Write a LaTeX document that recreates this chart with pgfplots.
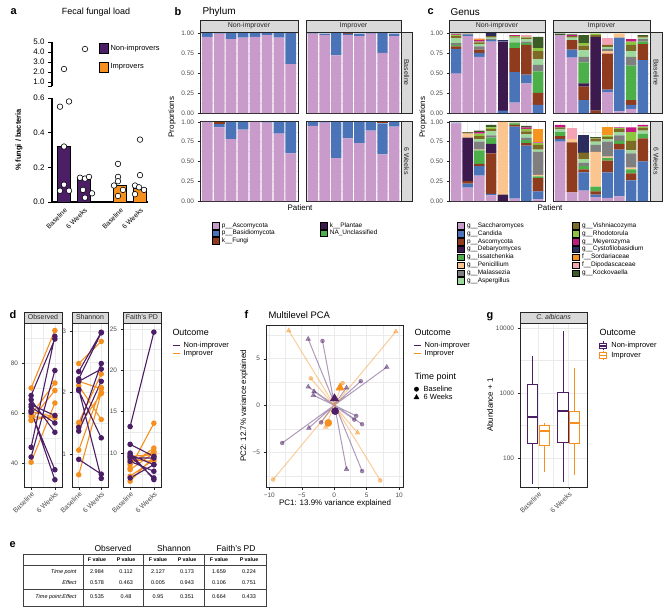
\documentclass[border=0pt]{standalone}
\usepackage{fontspec}
\setmainfont{Liberation Sans}
\usepackage{pgfplots}
\pgfplotsset{compat=1.18}
\usepackage{pgfplotstable}
\usepgfplotslibrary{statistics}
\newcommand{\fs}[1]{\fontsize{#1}{#1}\selectfont}
\definecolor{ni}{HTML}{4B1E66}
\definecolor{im}{HTML}{F5901F}
\definecolor{gridc}{HTML}{EBEBEB}
\definecolor{stripc}{HTML}{D9D9D9}
\definecolor{tickc}{HTML}{4D4D4D}
\definecolor{p1}{HTML}{C99BCB}
\definecolor{p2}{HTML}{4A73B8}
\definecolor{p3}{HTML}{8E3B1E}
\definecolor{p4}{HTML}{3D1A4D}
\definecolor{p5}{HTML}{4DAF4A}
\definecolor{g1}{HTML}{C99BCB}
\definecolor{g2}{HTML}{4A73B8}
\definecolor{g3}{HTML}{8E3B1E}
\definecolor{g4}{HTML}{3D1A4D}
\definecolor{g5}{HTML}{4DAF4A}
\definecolor{g6}{HTML}{FBC58F}
\definecolor{g7}{HTML}{7F7F7F}
\definecolor{g8}{HTML}{9FD89F}
\definecolor{g9}{HTML}{7D6A25}
\definecolor{g10}{HTML}{8CC63F}
\definecolor{g11}{HTML}{C2187F}
\definecolor{g12}{HTML}{2B2D5E}
\definecolor{g13}{HTML}{F7941D}
\definecolor{g14}{HTML}{F4A3B5}
\definecolor{g15}{HTML}{3B5B27}

\pgfplotstableread{
x s1 s2 s3 s4 s5
1 .95 .05 0 0 0
2 .99 .01 0 0 0
3 .92 .08 0 0 0
4 .94 .06 0 0 0
5 .95 .05 0 0 0
6 .97 .03 0 0 0
7 .94 .06 0 0 0
8 .61 .39 0 0 0
}\pBN
\pgfplotstableread{
x s1 s2 s3 s4 s5
1 .99 .01 0 0 0
2 .97 .02 0 0 0
3 .72 .28 0 0 0
4 .97 .02 .01 0 0
5 .96 .03 0 0 0
6 .99 .01 0 0 0
7 .75 .25 0 0 0
8 .96 .03 0 0 0
}\pBI
\pgfplotstableread{
x s1 s2 s3 s4 s5
1 1.00 0 0 0 0
2 .93 .04 .03 0 0
3 .78 .22 0 0 0
4 .90 .10 0 0 0
5 1.00 0 0 0 0
6 .99 .01 0 0 0
7 .85 .15 0 0 0
8 .60 .40 0 0 0
}\pWN
\pgfplotstableread{
x s1 s2 s3 s4 s5
1 .95 .05 0 0 0
2 .99 .01 0 0 0
3 .54 .46 0 0 0
4 .79 .21 0 0 0
5 .73 .27 0 0 0
6 .89 .11 0 0 0
7 .59 .39 .02 0 0
8 .94 .06 0 0 0
}\pWI

\pgfplotstableread{
x s1 s2 s3 s4 s5 s6 s7 s8 s9 s10 s11 s12 s13 s14 s15
1 .49 .31 .03 0 .02 0 .02 .06 .03 .01 .01 0 0 0 .01
2 .96 .02 0 0 0 0 0 0 .01 0 0 0 0 0 0
3 .70 .05 .04 0 0 0 .04 .03 .02 .01 .02 0 .01 .01 0
4 .89 .02 0 0 0 0 .01 .02 .02 0 0 .04 0 0 0
5 0 .03 0 .86 0 0 0 0 0 0 0 .02 0 0 0
6 .13 .38 .30 0 .07 0 0 .06 .01 .01 .01 0 0 0 0
7 .37 .11 .37 0 .02 0 .02 .03 .02 .01 0 0 0 .02 0
8 0 .10 .15 0 .27 0 .08 .07 .10 .04 0 0 0 0 .14
}\cBN
\pgfplotstableread{
x s1 s2 s3 s4 s5 s6 s7 s8 s9 s10 s11 s12 s13 s14 s15
1 .97 0 0 0 0 0 0 0 0 0 0 0 0 0 .02
2 .69 .10 .12 0 0 0 0 .03 .02 0 .01 0 0 0 .01
3 0 .16 .17 .04 .26 0 .07 .08 .06 .03 0 0 0 0 .10
4 0 0 .03 .92 0 0 0 0 .02 .02 0 0 0 0 0
5 .26 .03 .45 0 0 .03 .03 .02 .03 0 0 0 0 .08 0
6 .02 .92 0 0 0 .05 0 0 0 0 0 0 0 0 0
7 .05 .05 .06 0 .43 0 .11 .07 .08 .04 .03 0 0 0 0
8 0 .66 .20 0 .03 0 .03 .02 .02 0 0 0 0 0 .01
}\cBI
\pgfplotstableread{
x s1 s2 s3 s4 s5 s6 s7 s8 s9 s10 s11 s12 s13 s14 s15
1 .98 .01 0 0 0 0 0 0 0 0 0 0 0 0 0
2 .17 .05 .03 .55 0 .05 .01 0 .01 0 0 0 0 0 0
3 .32 .12 .03 0 .17 .01 .10 .03 .04 .03 .02 0 0 0 .02
4 .07 .02 .51 .12 .08 0 .03 .05 .03 .02 0 0 0 0 .03
5 0 0 0 .08 0 .92 0 0 0 0 0 0 0 0 0
6 .03 .91 .02 0 .02 0 0 0 .01 0 0 0 0 0 0
7 0 .70 .03 0 .04 0 .03 .04 .04 .03 .02 0 0 0 .02
8 .02 .10 .17 0 .02 .02 .29 .03 .06 .02 .01 0 .17 0 0
}\cWN
\pgfplotstableread{
x s1 s2 s3 s4 s5 s6 s7 s8 s9 s10 s11 s12 s13 s14 s15
1 .75 .03 .04 0 .05 0 0 .04 .02 0 .03 0 0 0 0
2 .11 0 .63 0 0 .04 0 0 0 0 0 0 0 .14 0
3 .13 .23 .04 0 .04 0 .04 .05 .08 0 0 .22 0 0 0
4 .05 .03 .04 0 .06 .44 .09 .04 .04 0 0 0 0 0 .02
5 .04 .32 .15 0 .03 .02 .19 .03 .03 .02 0 0 .10 0 0
6 .06 .59 .07 0 .04 0 .07 .04 .04 .01 .01 0 0 0 0
7 0 .26 .09 0 .05 .02 .18 .04 .12 .11 .06 0 0 0 0
8 0 .50 .29 0 .06 0 0 .04 .03 .02 .02 0 0 0 0
}\cWI

\pgfplotsset{
 gg/.style={scale only axis, axis line style={draw=black!85, line width=0.5pt},
   tick style={draw=black!85, line width=0.4pt}, major tick length=2.5pt, minor tick length=0pt,
   tick align=outside, tick pos=left,
   tick label style={font=\fs{6.5}, text=tickc},
   major grid style={draw=gridc, line width=0.6pt}, minor grid style={draw=gridc, line width=0.3pt},
   grid=both, /pgf/number format/assume math mode=true},
 facet/.style={gg, xmin=0.4, xmax=8.6, ymin=0, ymax=1.01, ybar stacked, bar width=0.9,
   xtick={1,...,8}, xticklabels={}, xtick style={draw=none}, minor xtick={},
   ytick={0,0.25,0.5,0.75,1}, minor ytick={0.125,0.375,0.625,0.875}, anchor=south west},
 lefty/.style={yticklabels={0.00,0.25,0.50,0.75,1.00}},
 righty/.style={yticklabels={}, ytick style={draw=none}},
 dfacet/.style={gg, anchor=south west, height=164bp, xmin=0.7, xmax=2.3, xtick={1,2}, minor xtick={1.5},
   xticklabels={Baseline,6 Weeks}, xticklabel style={rotate=45, anchor=north east, inner sep=1pt, font=\fs{7}},
   unbounded coords=jump},
 legax/.style={hide axis, scale only axis, width=1pt, height=1pt, xmin=0, xmax=1, ymin=0, ymax=1,
   anchor=north west, legend cell align=left,
   legend style={at={(0,1)}, anchor=north west, draw=none, fill=none, inner sep=0pt, outer sep=0pt,
     font=\fs{6.5}, row sep=0pt, nodes={inner sep=0.7pt}}},
 sqleg/.style={legend image code/.code={\path[draw=none,fill=none] (0pt,0pt) -- (9pt,0pt); \fill (0pt,-3.3pt) rectangle (7pt,3.3pt);}},
 boxleg/.style={legend image code/.code={\path[draw=none,fill=none] (0pt,0pt) -- (10.5pt,0pt); \draw[draw=black, line width=0.8pt] (0pt,-5pt) rectangle (9pt,5pt);}},
 lnleg/.style={legend image code/.code={\path[draw=none,fill=none] (0pt,0pt) -- (10.5pt,0pt); \draw[line width=1.1pt] (0pt,0pt) -- (7.5pt,0pt);}},
 mkleg/.style={legend image code/.code={\path[draw=none,fill=none] (0pt,0pt) -- (10pt,0pt); \draw plot coordinates {(3.5pt,0pt)};}},
 bxleg/.style={legend image code/.code={\path[draw=none,fill=none] (0pt,0pt) -- (11pt,0pt); \draw[fill=white, line width=0.8pt] (0pt,-3pt) rectangle (7pt,3pt);
    \draw[line width=1.4pt] (0pt,0pt) -- (7pt,0pt);
    \draw[line width=0.8pt] (3.5pt,3pt) -- (3.5pt,4.5pt) (3.5pt,-3pt) -- (3.5pt,-4.5pt);}},
}
\newcommand{\stripT}[5]{\draw[fill=stripc, draw=black!85, line width=0.5pt] (#1,#2) rectangle (#3,#4);
  \node[font=\fs{7}, text=black!85] at ({(#1+#3)/2},{(#2+#4)/2}) {#5};}
\newcommand{\stripR}[5]{\draw[fill=stripc, draw=black!85, line width=0.5pt] (#1,#2) rectangle (#3,#4);
  \node[font=\fs{7}, text=black!85, rotate=-90] at ({(#1+#3)/2},{(#2+#4)/2}) {#5};}

\begin{document}
\begin{tikzpicture}[x=1bp,y=-1bp]
\path[use as bounding box] (0,0) rectangle (668,612);

% ================= panel a =================
\node[font=\bfseries\fs{11}, anchor=west] at (7,12) {a};
\node[font=\fs{9}] at (96,12) {Fecal fungal load};
\node[font=\bfseries\fs{7.5}, rotate=90] at (19,140) {\% fungi / bacteria};
\begin{axis}[at={(52bp,-202bp)}, anchor=south west, scale only axis, width=96bp, height=104bp,
  xmin=0, xmax=96, ymin=0, ymax=0.6, axis x line*=bottom, axis y line*=left,
  axis line style={line width=1.1pt}, ytick={0,0.2,0.4,0.6}, yticklabels={0.0,0.2,0.4,0.6},
  ytick style={line width=1pt, draw=black}, major tick length=4pt, tick align=outside,
  xtick={12,32,68,88}, xticklabels={Baseline,6 Weeks,Baseline,6 Weeks}, xtick style={draw=none},
  xticklabel style={rotate=45, anchor=north east, font=\fs{6.8}, inner sep=1pt},
  yticklabel style={font=\fs{8}}, clip=false]
\addplot[ybar, bar shift=0pt, bar width=13, fill=ni, draw=black, line width=0.8pt] coordinates {(12,0.32) (32,0.135)};
\addplot[ybar, bar shift=0pt, bar width=13, fill=im, draw=black, line width=0.8pt] coordinates {(68,0.095) (88,0.08)};
\addplot[only marks, mark=*, mark size=2.8pt, mark options={fill=white, draw=black, line width=0.6pt}] coordinates {
 (8,0.55)(17,0.58)(12,0.32)(12,0.10)(8,0.065)(17,0.065)
 (28,0.14)(33,0.135)(37,0.145)(31,0.07)(40,0.05)(33,0.025)
 (66,0.22)(66,0.145)(66,0.12)(62,0.095)(71,0.07)(66,0.035)
 (88,0.36)(88,0.155)(83,0.095)(87,0.085)(92,0.07)(83,0.045)};
\end{axis}
\begin{axis}[at={(52bp,-86bp)}, anchor=south west, scale only axis, width=96bp, height=44bp,
  xmin=0, xmax=96, ymin=0.6, ymax=5, axis y line*=left, axis x line=none,
  axis line style={line width=1.1pt}, ytick={0.6,1,2,3,4,5}, yticklabels={,1.0,2.0,3.0,4.0,5.0},
  ytick style={line width=1pt, draw=black}, major tick length=4pt, tick align=outside,
  xtick=\empty, yticklabel style={font=\fs{8}}, clip=false]
\addplot[only marks, mark=*, mark size=2.8pt, mark options={fill=white, draw=black, line width=0.6pt}] coordinates {(12,2.3)(33,4.3)};
\end{axis}
\begin{axis}[legax, at={(99bp,-43bp)}, legend style={font=\fs{7.5}, row sep=8pt}]
\addlegendimage{boxleg, fill=ni}\addlegendentry{Non-improvers}
\addlegendimage{boxleg, fill=im}\addlegendentry{Improvers}
\end{axis}

% ================= panel b =================
\node[font=\bfseries\fs{11}, anchor=west] at (171,12) {b};
\node[font=\fs{10}, anchor=west] at (199,12) {Phylum};
\node[font=\fs{8}, rotate=90] at (172,117) {Proportions};
\node[font=\fs{8}] at (300,208) {Patient};
\begin{axis}[facet, lefty, at={(200bp,-113bp)}, width=98bp, height=81bp]
\pgfplotsinvokeforeach{1,...,5}{\addplot[fill=p#1, draw=none] table[x=x, y=s#1]{\pBN};}
\end{axis}
\begin{axis}[facet, righty, at={(306bp,-113bp)}, width=95bp, height=81bp]
\pgfplotsinvokeforeach{1,...,5}{\addplot[fill=p#1, draw=none] table[x=x, y=s#1]{\pBI};}
\end{axis}
\begin{axis}[facet, lefty, at={(200bp,-201bp)}, width=98bp, height=80bp]
\pgfplotsinvokeforeach{1,...,5}{\addplot[fill=p#1, draw=none] table[x=x, y=s#1]{\pWN};}
\end{axis}
\begin{axis}[facet, righty, at={(306bp,-201bp)}, width=95bp, height=80bp]
\pgfplotsinvokeforeach{1,...,5}{\addplot[fill=p#1, draw=none] table[x=x, y=s#1]{\pWI};}
\end{axis}
\stripT{200}{20}{298}{32}{Non-improver}
\stripT{306}{20}{401}{32}{Improver}
\stripR{401}{32}{412}{113}{Baseline}
\stripR{401}{121}{412}{201}{6 Weeks}
\begin{axis}[legax, at={(212bp,-222bp)}]
\addlegendimage{sqleg, fill=p1}\addlegendentry{p\_\_Ascomycota}
\addlegendimage{sqleg, fill=p2}\addlegendentry{p\_\_Basidiomycota}
\addlegendimage{sqleg, fill=p3}\addlegendentry{k\_\_Fungi}
\end{axis}
\begin{axis}[legax, at={(320bp,-222bp)}]
\addlegendimage{sqleg, fill=p4}\addlegendentry{k\_\_Plantae}
\addlegendimage{sqleg, fill=p5}\addlegendentry{NA\_Unclassified}
\end{axis}

% ================= panel c =================
\node[font=\bfseries\fs{11}, anchor=west] at (424,12) {c};
\node[font=\fs{10}, anchor=west] at (447,12) {Genus};
\node[font=\fs{8}, rotate=90] at (423,117) {Proportions};
\node[font=\fs{8}] at (550,208) {Patient};
\begin{axis}[facet, lefty, at={(449bp,-113bp)}, width=96bp, height=81bp]
\pgfplotsinvokeforeach{1,...,15}{\addplot[fill=g#1, draw=none] table[x=x, y=s#1]{\cBN};}
\end{axis}
\begin{axis}[facet, righty, at={(553bp,-113bp)}, width=97bp, height=81bp]
\pgfplotsinvokeforeach{1,...,15}{\addplot[fill=g#1, draw=none] table[x=x, y=s#1]{\cBI};}
\end{axis}
\begin{axis}[facet, lefty, at={(449bp,-201bp)}, width=96bp, height=80bp]
\pgfplotsinvokeforeach{1,...,15}{\addplot[fill=g#1, draw=none] table[x=x, y=s#1]{\cWN};}
\end{axis}
\begin{axis}[facet, righty, at={(553bp,-201bp)}, width=97bp, height=80bp]
\pgfplotsinvokeforeach{1,...,15}{\addplot[fill=g#1, draw=none] table[x=x, y=s#1]{\cWI};}
\end{axis}
\stripT{449}{20}{545}{32}{Non-improver}
\stripT{553}{20}{650}{32}{Improver}
\stripR{650}{32}{662}{113}{Baseline}
\stripR{650}{121}{662}{201}{6 Weeks}
\begin{axis}[legax, at={(457bp,-222bp)}, legend style={nodes={inner sep=0.85pt}}]
\addlegendimage{sqleg, fill=g1}\addlegendentry{g\_\_Saccharomyces}
\addlegendimage{sqleg, fill=g2}\addlegendentry{g\_\_Candida}
\addlegendimage{sqleg, fill=g3}\addlegendentry{p\_\_Ascomycota}
\addlegendimage{sqleg, fill=g4}\addlegendentry{g\_\_Debaryomyces}
\addlegendimage{sqleg, fill=g5}\addlegendentry{g\_\_Issatchenkia}
\addlegendimage{sqleg, fill=g6}\addlegendentry{g\_\_Penicillium}
\addlegendimage{sqleg, fill=g7}\addlegendentry{g\_\_Malassezia}
\addlegendimage{sqleg, fill=g8}\addlegendentry{g\_\_Aspergillus}
\end{axis}
\begin{axis}[legax, at={(572bp,-222bp)}, legend style={nodes={inner sep=0.85pt}}]
\addlegendimage{sqleg, fill=g9}\addlegendentry{g\_\_Vishniacozyma}
\addlegendimage{sqleg, fill=g10}\addlegendentry{g\_\_Rhodotorula}
\addlegendimage{sqleg, fill=g11}\addlegendentry{g\_\_Meyerozyma}
\addlegendimage{sqleg, fill=g12}\addlegendentry{g\_\_Cystofilobasidium}
\addlegendimage{sqleg, fill=g13}\addlegendentry{f\_\_Sordariaceae}
\addlegendimage{sqleg, fill=g14}\addlegendentry{f\_\_Dipodascaceae}
\addlegendimage{sqleg, fill=g15}\addlegendentry{g\_\_Kockovaella}
\end{axis}

% ================= panel d =================
\node[font=\bfseries\fs{11}, anchor=west] at (6,315) {d};
\begin{axis}[dfacet, at={(24bp,-487bp)}, width=38bp, ymin=30.4, ymax=96, ytick={40,60,80}, minor ytick={50,70,90}]
\addplot[im, line width=1.1pt, mark=*, mark size=2.2pt] coordinates {(1,70)(2,93) (1,nan) (1,59.3)(2,72) (1,nan) (1,57.3)(2,69) (1,nan) (1,40.3)(2,64) (1,nan) (1,60.5)(2,58.5) (1,nan) (1,58.5)(2,58) (1,nan) (1,57)(2,59)};
\addplot[ni, line width=1.1pt, mark=*, mark size=2.2pt] coordinates {(1,46.3)(2,90.7) (1,nan) (1,42.4)(2,77) (1,nan) (1,67)(2,89.6) (1,nan) (1,63.3)(2,59) (1,nan) (1,65.3)(2,52.3) (1,nan) (1,62.4)(2,56) (1,nan) (1,60.3)(2,37.3) (1,nan) (1,61)(2,33.3)};
\end{axis}
\begin{axis}[dfacet, at={(72bp,-487bp)}, width=36bp, ymin=0.46, ymax=3.13, ytick={1,2,3}, minor ytick={1.5,2.5}]
\addplot[im, line width=1.1pt, mark=*, mark size=2.2pt] coordinates {(1,2.47)(2,2.83) (1,nan) (1,2.11)(2,1.56) (1,nan) (1,1.51)(2,2.30) (1,nan) (1,1.06)(2,2.08) (1,nan) (1,0.66)(2,2.00) (1,nan) (1,2.18)(2,2.06) (1,nan) (1,1.45)(2,1.98)};
\addplot[ni, line width=1.1pt, mark=*, mark size=2.2pt] coordinates {(1,2.34)(2,2.98) (1,nan) (1,2.22)(2,2.97) (1,nan) (1,2.18)(2,2.38) (1,nan) (1,2.03)(2,1.26) (1,nan) (1,1.43)(2,2.47) (1,nan) (1,1.37)(2,2.18) (1,nan) (1,0.91)(2,0.67) (1,nan) (1,2.05)(2,0.60)};
\end{axis}
\begin{axis}[dfacet, at={(123bp,-487bp)}, width=38bp, ymin=5.9, ymax=25.7, ytick={10,15,20,25}, minor ytick={7.5,12.5,17.5,22.5}]
\addplot[im, line width=1.1pt, mark=*, mark size=2.2pt] coordinates {(1,8.2)(2,13.6) (1,nan) (1,8.6)(2,10.6) (1,nan) (1,8.0)(2,10.0) (1,nan) (1,6.6)(2,9.6) (1,nan) (1,9.2)(2,9.0) (1,nan) (1,8.8)(2,10.2) (1,nan) (1,9.6)(2,9.8) (1,nan) (1,7.2)(2,9.2)};
\addplot[ni, line width=1.1pt, mark=*, mark size=2.2pt] coordinates {(1,13.2)(2,24.6) (1,nan) (1,11.05)(2,9.6) (1,nan) (1,9.8)(2,8.6) (1,nan) (1,9.6)(2,7.0) (1,nan) (1,9.4)(2,9.4) (1,nan) (1,9.0)(2,7.8) (1,nan) (1,7.0)(2,8.6) (1,nan) (1,10.0)(2,6.8)};
\end{axis}
\stripT{24}{312}{62}{323}{Observed}
\stripT{72}{312}{108}{323}{Shannon}
\stripT{123}{312}{161}{323}{Faith's PD}
\node[font=\fs{9}, anchor=west] at (169,332) {Outcome};
\begin{axis}[legax, at={(172bp,-341bp)}, legend style={font=\fs{7.5}}]
\addlegendimage{lnleg, ni}\addlegendentry{Non-improver}
\addlegendimage{lnleg, im}\addlegendentry{Improver}
\end{axis}

% ================= panel f =================
\node[font=\bfseries\fs{11}, anchor=west] at (241,315) {f};
\node[font=\fs{9.5}, anchor=west] at (265,315) {Multilevel PCA};
\node[font=\fs{8}, rotate=90] at (244,406) {PC2: 12.7\% variance explained};
\node[font=\fs{8}] at (335,503) {PC1: 13.9\% variance explained};
\begin{axis}[gg, at={(266bp,-487bp)}, anchor=south west, width=137bp, height=162bp,
  xmin=-10.5, xmax=10.6, ymin=-8.7, ymax=8.6, xtick={-10,-5,0,5,10}, xticklabels={−10,−5,0,5,10},
  ytick={-5,0,5}, yticklabels={−5,0,5}, minor xtick={-7.5,-2.5,2.5,7.5}, minor ytick={-7.5,-2.5,2.5,7.5},
  unbounded coords=jump]
\addplot[ni, opacity=0.45, line width=1pt, no marks] coordinates {(-1.8,6.9)(1.9,-6.8) (0,nan) (4.3,-7.0)(-4.0,7.1) (0,nan) (-8.0,-4.0)(8.1,4.1) (0,nan) (4.1,2.6)(-3.9,-2.4) (0,nan) (4.3,-2.0)(-4.0,2.0) (0,nan) (3.4,-1.1)(-3.2,1.1) (0,nan) (3.1,-1.5)(-3.1,1.5) (0,nan) (-2.0,-1.8)(1.9,1.9)};
\addplot[im, opacity=0.45, line width=1pt, no marks] coordinates {(7.1,-8.0)(-7.0,8.0) (0,nan) (-9.4,-7.9)(9.5,7.9) (0,nan) (-3.6,2.9)(3.6,-2.9) (0,nan) (1.3,2.4)(-1.3,-2.3)};
\addplot[ni, opacity=0.5, only marks, mark=*, mark size=2pt] coordinates {(-1.8,6.9)(4.3,-7.0)(-8.0,-4.0)(4.1,2.6)(4.3,-2.0)(3.4,-1.1)(3.1,-1.5)(-2.0,-1.8)};
\addplot[ni, opacity=0.5, only marks, mark=triangle*, mark size=2.8pt] coordinates {(1.9,-6.8)(-4.0,7.1)(8.1,4.1)(-3.9,-2.4)(-4.0,2.0)(-3.2,1.1)(-3.1,1.5)(1.9,1.9)};
\addplot[im, opacity=0.5, only marks, mark=*, mark size=2pt] coordinates {(7.1,-8.0)(-9.4,-7.9)(-3.6,2.9)(1.3,2.4)};
\addplot[im, opacity=0.5, only marks, mark=triangle*, mark size=2.8pt] coordinates {(-7.0,8.0)(9.5,7.9)(3.6,-2.9)(-1.3,-2.3)};
\addplot[ni, only marks, mark=*, mark size=3.6pt] coordinates {(0.15,-0.6)};
\addplot[ni, only marks, mark=triangle*, mark size=4.8pt] coordinates {(0.05,0.75)};
\addplot[im, only marks, mark=*, mark size=3.6pt] coordinates {(-0.9,-1.85)};
\addplot[im, only marks, mark=triangle*, mark size=4.8pt] coordinates {(0.9,1.9)};
\end{axis}
\node[font=\fs{9}, anchor=west] at (411,332) {Outcome};
\begin{axis}[legax, at={(413bp,-341bp)}, legend style={font=\fs{7.5}}]
\addlegendimage{lnleg, ni}\addlegendentry{Non-improver}
\addlegendimage{lnleg, im}\addlegendentry{Improver}
\end{axis}
\node[font=\fs{9}, anchor=west] at (411,377) {Time point};
\begin{axis}[legax, at={(413bp,-385bp)}, legend style={font=\fs{7.5}}]
\addlegendimage{mkleg, black, mark=*, mark size=2.2pt}\addlegendentry{Baseline}
\addlegendimage{mkleg, black, mark=triangle*, mark size=3pt}\addlegendentry{6 Weeks}
\end{axis}

% ================= panel g =================
\node[font=\bfseries\fs{11}, anchor=west] at (483,317) {g};
\node[font=\fs{8}, rotate=90] at (490,405) {Abundance + 1};
\begin{axis}[gg, at={(520bp,-487bp)}, anchor=south west, width=67bp, height=164bp, ymode=log,
  ymin=35.6, ymax=11940, xmin=0.4, xmax=2.6, xtick={1,2}, xticklabels={Baseline,6 Weeks},
  xticklabel style={rotate=45, anchor=north east, inner sep=1pt, font=\fs{7}}, minor xtick={1.5},
  ytick={100,1000,10000}, yticklabels={100,1000,10000}, minor ytick={316.2,3162},
  boxplot/draw direction=y]
\addplot[draw=ni, line width=0.9pt, fill=white, boxplot/every median/.style={line width=1.8pt},
  boxplot prepared={draw position=0.81, lower whisker=40, lower quartile=164, median=423,
  upper quartile=1330, upper whisker=3660, box extend=0.33, whisker extend=0}] coordinates {};
\addplot[draw=im, line width=0.9pt, fill=white, boxplot/every median/.style={line width=1.8pt},
  boxplot prepared={draw position=1.19, lower whisker=60, lower quartile=158, median=263,
  upper quartile=316, upper whisker=340, box extend=0.33, whisker extend=0}] coordinates {};
\addplot[draw=ni, line width=0.9pt, fill=white, boxplot/every median/.style={line width=1.8pt},
  boxplot prepared={draw position=1.81, lower whisker=42, lower quartile=170, median=525,
  upper quartile=1020, upper whisker=8900, box extend=0.33, whisker extend=0}] coordinates {};
\addplot[draw=im, line width=0.9pt, fill=white, boxplot/every median/.style={line width=1.8pt},
  boxplot prepared={draw position=2.19, lower whisker=55, lower quartile=164, median=345,
  upper quartile=510, upper whisker=2430, box extend=0.33, whisker extend=0}] coordinates {};
\end{axis}
\draw[fill=stripc, draw=black!85, line width=0.5pt] (520,312) rectangle (587,323);
\node[font=\itshape\fs{7}, text=black!85] at (553.5,317.5) {C. albicans};
\node[font=\fs{9}, anchor=west] at (596,332) {Outcome};
\begin{axis}[legax, at={(599bp,-341bp)}, legend style={font=\fs{7.5}}]
\addlegendimage{bxleg, ni}\addlegendentry{Non-improver}
\addlegendimage{bxleg, im}\addlegendentry{Improver}
\end{axis}

% ================= panel e =================
\node[font=\bfseries\fs{11}, anchor=west] at (6,545) {e};
\node[font=\fs{8.5}] at (113,548) {Observed};
\node[font=\fs{8.5}] at (174,548) {Shannon};
\node[font=\fs{8.5}] at (236,548) {Faith's PD};
\draw[line width=0.5pt, black!75] (23,554) rectangle (266,606);
\draw[line width=0.5pt, black!75] (83,554) -- (83,606) (143,554) -- (143,606) (204,554) -- (204,606);
\draw[line width=0.5pt, black!75] (23,565) -- (266,565) (23,589) -- (266,589);
\foreach \xx/\tt in {97/F value,126/P value,158/F value,187/P value,219/F value,249/P value}
  {\node[font=\bfseries\fs{5.3}] at (\xx,560) {\tt};}
\node[font=\itshape\fs{5.5}, anchor=east] at (80,572) {Time point};
\node[font=\itshape\fs{5.5}, anchor=east] at (80,583) {Effect};
\node[font=\itshape\fs{5.5}, anchor=east] at (80,597) {Time point:Effect};
\foreach \xx/\a/\b/\c in {97/2.984/0.578/0.535,126/0.112/0.463/0.48,158/2.127/0.005/0.95,187/0.173/0.943/0.351,219/1.659/0.106/0.664,249/0.224/0.751/0.433}
  {\node[font=\fs{5.5}] at (\xx,572) {\a}; \node[font=\fs{5.5}] at (\xx,583) {\b}; \node[font=\fs{5.5}] at (\xx,597) {\c};}
\end{tikzpicture}
\end{document}
